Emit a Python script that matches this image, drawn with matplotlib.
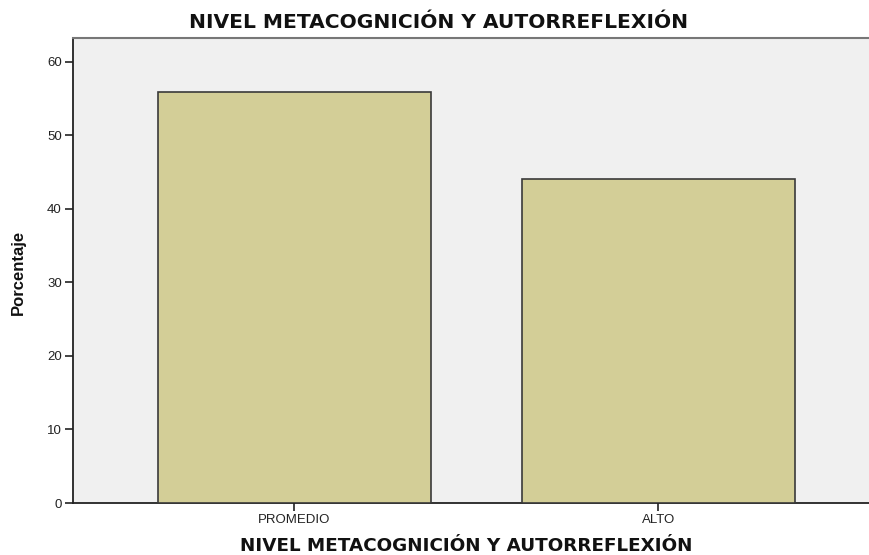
import matplotlib
matplotlib.use("Agg")
import matplotlib.pyplot as plt

categories = ["PROMEDIO", "ALTO"]
values = [55.9, 44.1]
yticks = [0, 10, 20, 30, 40, 50, 60]

plt.rcParams['font.family'] = ['Liberation Sans', 'DejaVu Sans']

W, H = 869, 555
ax_left, ax_right, ax_top, ax_bottom = 73, 879, 38, 503

fig = plt.figure(figsize=(W / 100, H / 100), dpi=100)
ax = fig.add_axes([ax_left / W, (H - ax_bottom) / H, (ax_right - ax_left) / W, (ax_bottom - ax_top) / H])
ax.set_facecolor('#f0f0f0')
x = list(range(len(categories)))
ax.bar(x, values, width=0.75, color='#d3ce97', edgecolor='#3a3a3a', linewidth=1.2, zorder=3)
ax.set_xlim(-0.608, 1.607)
ax.set_ylim(0, 63.22)
ax.set_yticks(yticks)
ax.set_yticklabels([str(v) for v in yticks], fontsize=9.5, color='#222222')
ax.set_xticks(x)
ax.set_xticklabels(categories, fontsize=9.5, color='#222222')
ax.tick_params(axis='both', direction='out', length=6, width=1.2, color='#222222', pad=2)
for s in ['left', 'bottom']:
    ax.spines[s].set_color('#222222')
    ax.spines[s].set_linewidth(1.3)
ax.spines['top'].set_color('#777777')
ax.spines['top'].set_linewidth(1.5)
ax.spines['right'].set_visible(False)

head = ['DejaVu Sans']
fig.text(466 / W, 1 - 546 / H, "NIVEL METACOGNICIÓN Y AUTORREFLEXIÓN", ha='center', va='center',
         fontsize=13.2, fontweight='bold', color='#111111', family=head)
fig.text(439 / W, 1 - 23 / H, "NIVEL METACOGNICIÓN Y AUTORREFLEXIÓN", ha='center', va='center',
         fontsize=14.6, fontweight='bold', color='#111111', family=head)
fig.text(18 / W, 1 - 272 / H, "Porcentaje", rotation=90, ha='center', va='center',
         fontsize=12, fontweight='bold', color='#111111',
         family=['Liberation Sans Narrow', 'Liberation Sans', 'DejaVu Sans'])

fig.savefig("out.png", dpi=100, facecolor='white')
